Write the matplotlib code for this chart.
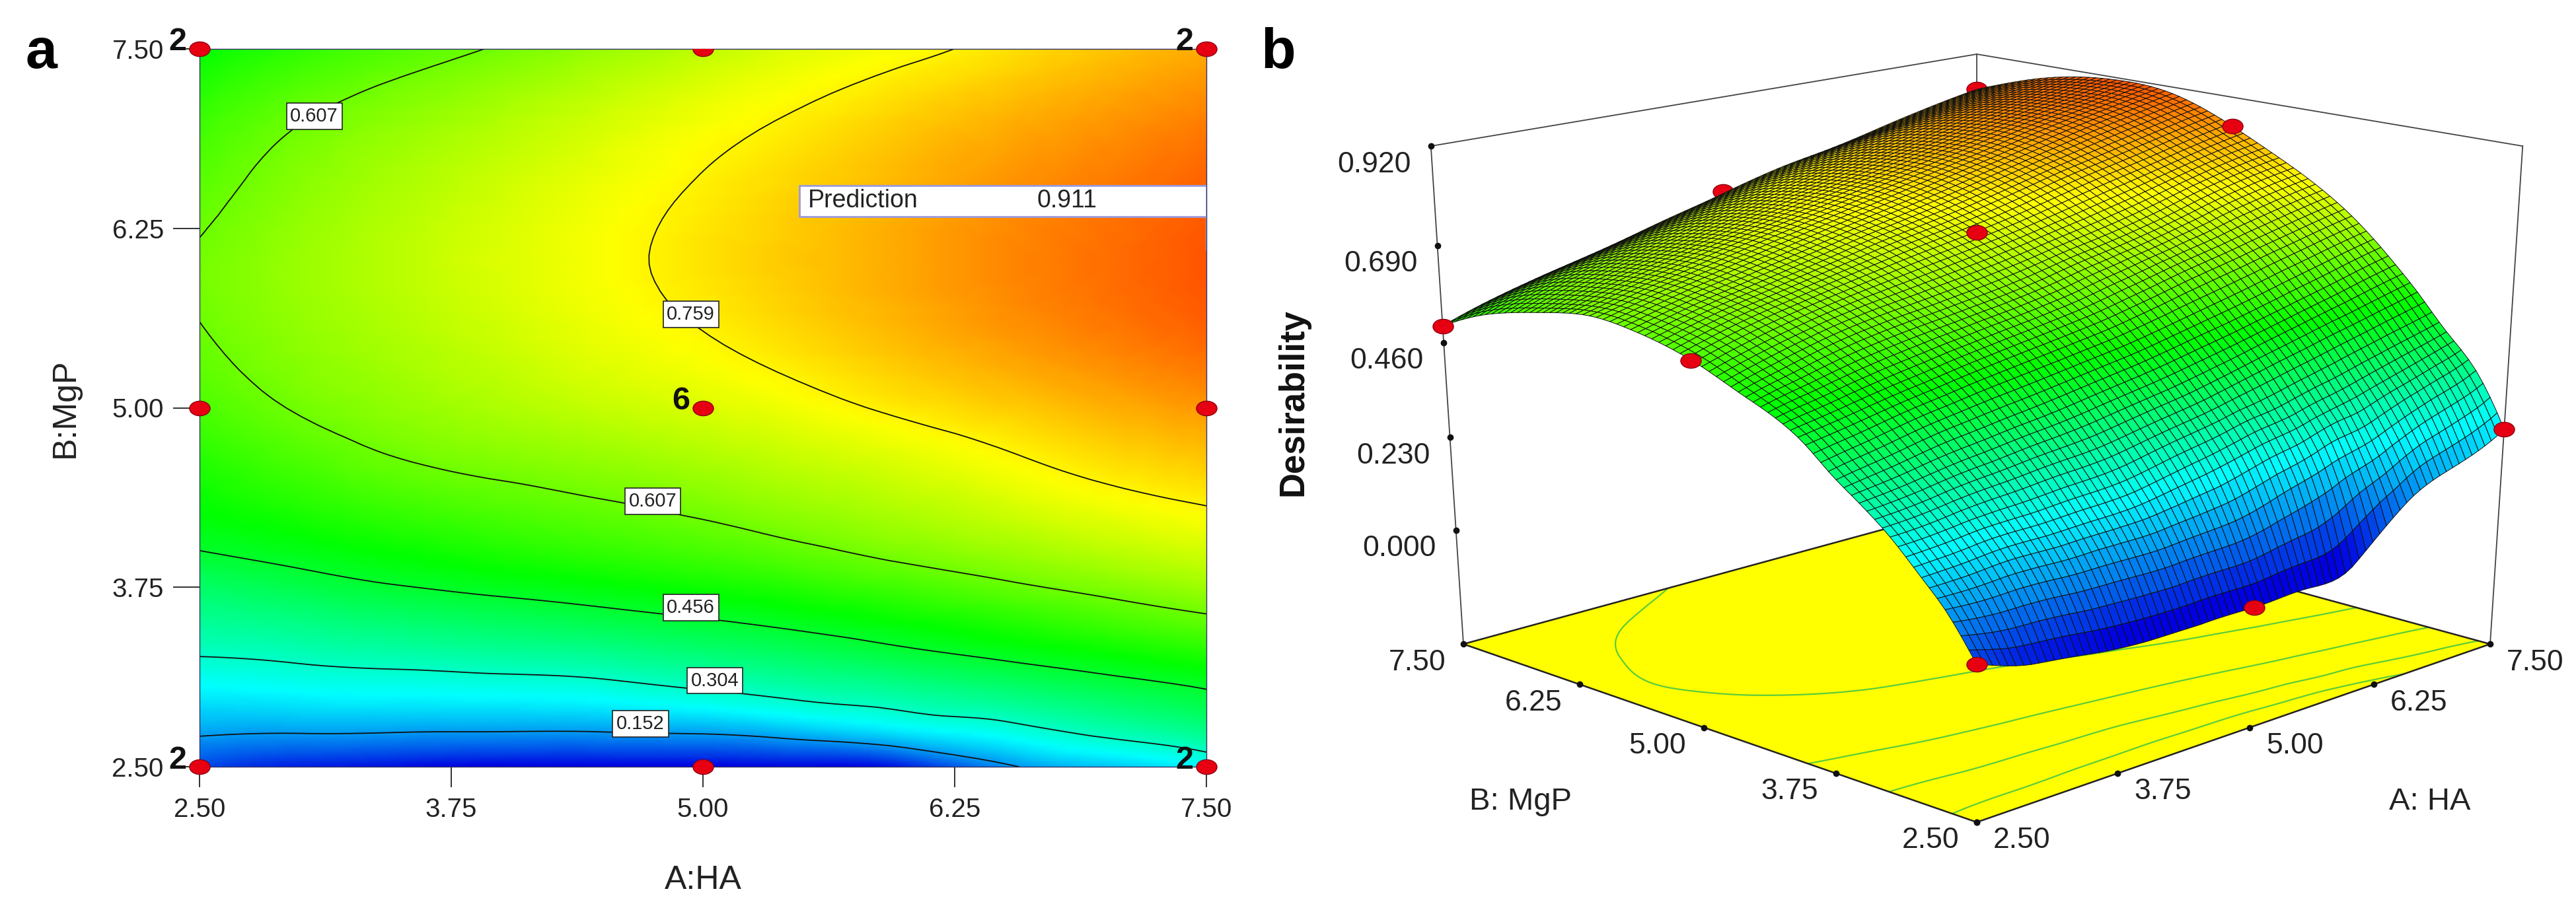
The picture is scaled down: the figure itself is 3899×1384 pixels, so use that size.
import numpy as np
import matplotlib
matplotlib.use("Agg")
import matplotlib.pyplot as plt
import matplotlib.tri as mtri
from matplotlib.colors import LinearSegmentedColormap
from matplotlib.markers import MarkerStyle
from matplotlib.patches import Rectangle
from matplotlib.transforms import Affine2D
from mpl_toolkits.mplot3d import proj3d

plt.rcParams['font.family'] = ['Liberation Sans', 'DejaVu Sans']

W, H = 3899, 1384

# desirability (rows = B:MgP, columns = A:HA)
ha_vals = [2.5, 3.0, 3.5, 4.0, 4.5, 5.0, 5.5, 6.0, 6.5, 7.0, 7.5]
mgp_vals = [2.5, 2.75, 3.0, 3.25, 3.5, 3.75, 4.0, 4.5, 5.0, 5.5, 6.0, 6.5, 7.0, 7.5]
row_250 = [.07, .03, .012, .00, .00, .00, .005, .03, .14, .195, .25]
row_275 = [.165, .16, .157, .155, .156, .165, .195, .235, .275, .325, .37]
row_300 = [.235, .245, .25, .255, .265, .29, .32, .345, .375, .41, .445]
row_325 = [.30, .312, .325, .337, .35, .375, .40, .43, .46, .49, .52]
row_350 = [.352, .37, .39, .407, .425, .447, .472, .50, .53, .56, .59]
row_375 = [.40, .427, .453, .473, .492, .512, .537, .565, .595, .625, .653]
row_400 = [.455, .48, .505, .528, .548, .568, .595, .625, .652, .68, .706]
row_450 = [.52, .557, .588, .608, .626, .648, .675, .70, .732, .763, .785]
row_500 = [.572, .612, .642, .668, .692, .714, .74, .77, .797, .825, .85]
row_550 = [.603, .64, .67, .70, .73, .757, .787, .818, .848, .875, .90]
row_600 = [.613, .65, .683, .715, .745, .775, .805, .835, .865, .89, .915]
row_650 = [.590, .635, .67, .703, .735, .765, .795, .825, .855, .88, .905]
row_700 = [.557, .605, .64, .672, .705, .738, .767, .797, .825, .85, .875]
row_750 = [.50, .545, .58, .613, .65, .685, .72, .745, .775, .805, .83]

contour_levels = [0.152, 0.304, 0.456, 0.607, 0.759]
floor_levels = [0.152, 0.304, 0.456, 0.64]
contour_labels = ['0.607', '0.759', '0.607', '0.456', '0.304', '0.152']
label_ha = [3.07, 4.94, 4.75, 4.94, 5.06, 4.69]
label_mgp = [7.03, 5.65, 4.35, 3.61, 3.10, 2.80]

design_ha = [2.5, 5.0, 7.5, 2.5, 5.0, 7.5, 2.5, 5.0, 7.5]
design_mgp = [2.5, 2.5, 2.5, 5.0, 5.0, 5.0, 7.5, 7.5, 7.5]
design_z = [0.07, 0.0, 0.25, 0.57, 0.72, 0.85, 0.50, 0.69, 0.83]
replicate_text = ['2', '', '2', '', '6', '', '2', '', '2']

axis_ticks = [2.5, 3.75, 5.0, 6.25, 7.5]
axis_ticklabels = ['2.50', '3.75', '5.00', '6.25', '7.50']
z_ticks = [0.0, 0.23, 0.46, 0.69, 0.92]
z_ticklabels = ['0.000', '0.230', '0.460', '0.690', '0.920']
z_floor = -0.29

Z = np.array([row_250, row_275, row_300, row_325, row_350, row_375, row_400,
              row_450, row_500, row_550, row_600, row_650, row_700, row_750])
grid_a, grid_b = np.meshgrid(ha_vals, mgp_vals)

cmap = LinearSegmentedColormap.from_list('de', ['#0000e0', '#00ffff', '#00ff00', '#ffff00', '#ff0000'])
dot = MarkerStyle('o', transform=Affine2D().scale(1.4, 1.0))
red = dict(linestyle='none', marker=dot, ms=16, mfc='#e60012', mec='#8c0010', mew=1)

# the table stays as read; matplotlib's own tri tools only smooth it for drawing
tri = mtri.Triangulation(grid_a.ravel(), grid_b.ravel())
fine_tri, fine_z = mtri.UniformTriRefiner(tri).refine_field(Z.ravel(), subdiv=3)
fine_z = np.clip(fine_z, 0, None)

fig = plt.figure(figsize=(W / 100, H / 100), dpi=100, facecolor='white')

# panel a
ax = fig.add_axes([302 / W, 1 - 1161 / H, 1524 / W, 1087 / H])
ax.tripcolor(fine_tri, fine_z, shading='gouraud', cmap=cmap, vmin=0, vmax=1)
ax.tricontour(fine_tri, fine_z, levels=contour_levels, colors='#111111', linewidths=1.3)
ax.set_xlim(2.5, 7.5)
ax.set_ylim(2.5, 7.5)
ax.set_xticks(axis_ticks, axis_ticklabels)
ax.set_yticks(axis_ticks, axis_ticklabels)
ax.tick_params(axis='x', length=22, width=1.3, pad=11, labelsize=29, colors='#222222')
ax.tick_params(axis='y', length=29, width=1.3, pad=10, labelsize=29, colors='#222222')
ax.set_xlabel('A:HA', fontsize=36, va='center', color='#222222')
ax.xaxis.set_label_coords(0.5, -0.158)
ax.set_ylabel('B:MgP', fontsize=36, va='center', color='#222222')
ax.yaxis.set_label_coords(-0.133, 0.5)
for s in ax.spines.values():
    s.set_linewidth(1.0)
    s.set_color('#333366')

for txt, a, b in zip(contour_labels, label_ha, label_mgp):
    ax.text(a, b, txt, fontsize=21, ha='center', va='center', color='#222222', zorder=4,
            bbox=dict(boxstyle='square,pad=0.2', fc='white', ec='#222222', lw=1.2))

ax.add_patch(Rectangle((5.48, 6.33), 2.02, 0.22, fc='white', ec='#9a9ae0', lw=2, zorder=4))
ax.plot([7.5, 7.5], [6.33, 6.1], color='#9a9ae0', lw=2, zorder=4)
ax.text(5.52, 6.44, 'Prediction', fontsize=27, va='center', color='#222222', zorder=5)
ax.text(6.66, 6.44, '0.911', fontsize=27, va='center', color='#222222', zorder=5)

for a, b, txt in zip(design_ha, design_mgp, replicate_text):
    # the top middle point is cut by the frame in the original
    ax.plot([a], [b], clip_on=(a == 5.0 and b == 7.5), zorder=6, **red)
    if txt:
        ax.annotate(txt, (a, b), xytext=(-33, 10), textcoords='offset pixels', fontsize=35,
                    fontweight='bold', ha='center', va='center', color='#111111',
                    annotation_clip=False, zorder=7)

# panel b
ax3 = fig.add_axes([0.5, 0, 0.5, 1], projection='3d')
ax3.apply_aspect = lambda position=None: None   # original picture is stretched sideways
ax3.computed_zorder = False
ax3.set_axis_off()
ax3.patch.set_alpha(0)
ax3.set_box_aspect((1, 1, 0.97))
ax3.view_init(elev=20, azim=-135)
ax3.set_proj_type('persp', focal_length=0.6)

# display mesh of the surface, evaluated from the table by the library's interpolator
mesh_a, mesh_b = np.meshgrid(np.linspace(2.5, 7.5, 76), np.linspace(2.5, 7.5, 76))
mesh_z = mtri.CubicTriInterpolator(tri, Z.ravel())(mesh_a, mesh_b)
mesh_z = np.clip(np.ma.filled(mesh_z, 0.0), 0, None)

floor_a, floor_b = np.meshgrid([2.5, 7.5], [2.5, 7.5])
ax3.plot_surface(floor_a, floor_b, np.full((2, 2), z_floor), color='#ffff00', shade=False,
                 linewidth=0, zorder=1)
ax3.contour(mesh_a, mesh_b, mesh_z, levels=floor_levels, zdir='z', offset=z_floor,
            colors='#5ccc3c', linewidths=1.6, zorder=2)

line = dict(color='#444444', lw=1.3, zorder=3)
ax3.plot([2.5, 2.5], [7.5, 7.5], [z_floor, 0.92], **line)
ax3.plot([7.5, 7.5], [2.5, 2.5], [z_floor, 0.92], **line)
ax3.plot([7.5, 7.5], [7.5, 7.5], [z_floor, 0.92], **line)
ax3.plot([2.5, 7.5, 7.5], [7.5, 7.5, 2.5], [0.92, 0.92, 0.92], **line)
edge = dict(color='#222222', lw=1.8, zorder=3)
ax3.plot([2.5, 2.5, 7.5, 7.5, 2.5], [7.5, 2.5, 2.5, 7.5, 7.5], [z_floor] * 5, **edge)

# the far row of points sits behind the surface edge
for a, b, z in zip(design_ha, design_mgp, design_z):
    if b == 7.5 and a > 2.5:
        ax3.plot([a], [b], [z], zorder=4, **red)

ax3.plot_surface(mesh_a, mesh_b, mesh_z, facecolors=cmap(mesh_z), rstride=1, cstride=1,
                 shade=False, edgecolor='#101010', linewidth=0.7, zorder=5)

for a, b, z in zip(design_ha, design_mgp, design_z):
    if not (b == 7.5 and a > 2.5):
        ax3.plot([a], [b], [z], zorder=6, **red)

ax3.set_xlim(2.5, 7.5)
ax3.set_ylim(2.5, 7.5)
ax3.set_zlim(z_floor, 0.92)


def project(a, b, z):
    u, v, _ = proj3d.proj_transform(a, b, z, ax3.get_proj())
    return u, v


# put the 3d box on its place in the picture: floor corners and back top corner
vx0, vx1 = ax3.viewLim.intervalx
vy0, vy1 = ax3.viewLim.intervaly
ul = project(2.5, 7.5, z_floor)[0]
ur = project(7.5, 2.5, z_floor)[0]
vfront = project(2.5, 2.5, z_floor)[1]
vtop = project(7.5, 7.5, 0.92)[1]
sx = (3769 - 2215) / (ur - ul)
sy = (1245 - 82) / (vtop - vfront)
left_px = 2215 - (ul - vx0) * sx
top_px = 82 - (vy1 - vtop) * sy
wid_px = (vx1 - vx0) * sx
hei_px = (vy1 - vy0) * sy
ax3.set_position([left_px / W, 1 - (top_px + hei_px) / H, wid_px / W, hei_px / H])

ticks = dict(linestyle='none', marker='o', ms=6, color='#111111', zorder=4)
lab = dict(textcoords='offset pixels', fontsize=32, ha='center', va='center', color='#222222',
           annotation_clip=False)
for t, txt in zip(z_ticks, z_ticklabels):
    ax3.plot([2.5], [7.5], [t], **ticks)
    ax3.annotate(txt, project(2.5, 7.5, t), xytext=(-86, -28), **lab)
for t, txt in zip(axis_ticks, axis_ticklabels):
    ax3.plot([t], [2.5], [z_floor], **ticks)
    ax3.plot([2.5], [t], [z_floor], **ticks)
    ax3.annotate(txt, project(t, 2.5, z_floor), xytext=(68, -28), **lab)
    ax3.annotate(txt, project(2.5, t, z_floor), xytext=(-70, -28), **lab)

fig.text(3678 / W, 1 - 1214 / H, 'A: HA', fontsize=34, ha='center', va='center', color='#222222')
fig.text(2302 / W, 1 - 1214 / H, 'B: MgP', fontsize=34, ha='center', va='center', color='#222222')
fig.text(1957 / W, 1 - 609 / H, 'Desirability', fontsize=38, fontweight='bold', rotation=90,
         ha='center', va='center', color='#111111')
fig.text(62 / W, 1 - 81 / H, 'a', fontsize=62, fontweight='bold', ha='center', va='center')
fig.text(1935 / W, 1 - 81 / H, 'b', fontsize=62, fontweight='bold', ha='center', va='center')

fig.savefig('out.png', dpi=100)
